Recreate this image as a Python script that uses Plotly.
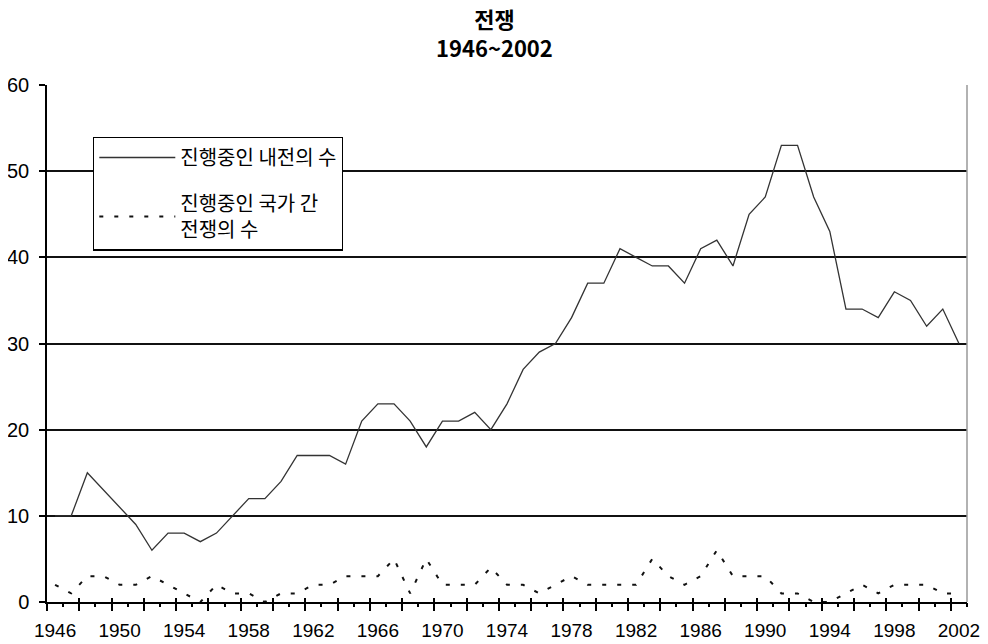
import plotly.graph_objects as go

years = list(range(1946, 2003))
civil_wars = [10, 10, 15, 13, 11, 9, 6, 8, 8, 7,
              8, 10, 12, 12, 14, 17, 17, 17, 16, 21,
              23, 23, 21, 18, 21, 21, 22, 20, 23, 27,
              29, 30, 33, 37, 37, 41, 40, 39, 39, 37,
              41, 42, 39, 45, 47, 53, 53, 47, 43, 34,
              34, 33, 36, 35, 32, 34, 30]
interstate_wars = [2, 1, 3, 3, 2, 2, 3, 2, 1, 0,
                   2, 1, 1, 0, 1, 1, 2, 2, 3, 3,
                   3, 5, 1, 5, 2, 2, 2, 4, 2, 2,
                   1, 2, 3, 2, 2, 2, 2, 5, 3, 2,
                   3, 6, 3, 3, 3, 1, 1, 0, 0, 1,
                   2, 1, 2, 2, 2, 1, 1]
x_tick_labels = list(range(1946, 2003, 4))
y_ticks = [0, 10, 20, 30, 40, 50, 60]
y_grid = [10, 20, 30, 40, 50]
title_text = "<b>전쟁<br>1946~2002</b>"

FONT = "Noto Sans CJK KR"
NUM_FONT = "Liberation Sans"
x_range = [years[0] - 0.5, years[-1] + 0.5]
boundaries = [y - 0.5 for y in years] + [years[-1] + 0.5]
long_bounds = boundaries[::2]

fig = go.Figure()
fig.add_trace(go.Scatter(
    x=years, y=civil_wars, mode="lines", name="진행중인 내전의 수",
    line=dict(color="#333333", width=1.3), legendgroup="a"))
fig.add_trace(go.Scatter(
    x=years, y=interstate_wars, mode="lines", name="진행중인 국가 간<br>전쟁의 수",
    line=dict(color="#111111", width=2, dash="4px,11px"), legendgroup="b"))
# empty helper traces so the overlay axes (grid lines, tick marks) get drawn
fig.add_trace(go.Scatter(x=[], y=[], xaxis="x2", yaxis="y2", showlegend=False, hoverinfo="skip"))
fig.add_trace(go.Scatter(x=[], y=[], xaxis="x3", yaxis="y2", showlegend=False, hoverinfo="skip"))

fig.update_layout(
    width=980, height=636,
    margin=dict(l=39, r=21, t=77, b=42),
    paper_bgcolor="white", plot_bgcolor="white",
    font=dict(family=FONT, color="black"),
    xaxis=dict(range=x_range, tickmode="array", tickvals=x_tick_labels,
               ticks="", showgrid=False, zeroline=False, automargin=False,
               showline=True, linecolor="black", linewidth=1.5,
               tickfont=dict(size=19, family=NUM_FONT, color="black"),
               ticklabelstandoff=10),
    xaxis2=dict(overlaying="x", anchor="y2", side="bottom", range=x_range,
                tickmode="array", tickvals=long_bounds, ticks="outside", ticklen=8,
                tickcolor="black", tickwidth=1.5, showticklabels=False, automargin=False,
                showgrid=False, zeroline=False, showline=False,
                minor=dict(tickmode="array", tickvals=boundaries, ticks="outside",
                           ticklen=4, tickcolor="black", tickwidth=1.5, showgrid=False)),
    xaxis3=dict(overlaying="x", anchor="y2", side="bottom", range=x_range,
                tickmode="array", tickvals=long_bounds, ticks="inside", ticklen=4,
                tickcolor="black", tickwidth=1.5, showticklabels=False, automargin=False,
                showgrid=False, zeroline=False, showline=False),
    yaxis=dict(range=[0, 60], tickmode="array", tickvals=y_ticks, ticks="outside",
               ticklen=6, tickcolor="black", tickwidth=1.5, showgrid=False, zeroline=False,
               showline=True, linecolor="black", linewidth=1.5, automargin=False,
               tickfont=dict(size=20, family=NUM_FONT, color="black"),
               ticklabelstandoff=6),
    yaxis2=dict(overlaying="y", range=[0, 60], tickmode="array", tickvals=y_grid,
                showgrid=True, gridcolor="#111111", gridwidth=2, ticks="",
                showticklabels=False, zeroline=False, showline=False, automargin=False),
    legend=dict(x=0.05, y=0.9, xanchor="left", yanchor="top",
                bordercolor="black", borderwidth=1.3, bgcolor="white",
                font=dict(size=20, family=FONT, color="black"),
                itemwidth=76, tracegroupgap=17),
    annotations=[
        dict(text=title_text, xref="paper", yref="paper", x=0.4859, y=1.1015,
             xanchor="center", yanchor="middle", showarrow=False,
             font=dict(size=22, family=FONT, color="black")),
    ],
    shapes=[dict(type="line", xref="paper", yref="paper", x0=1, x1=1, y0=0, y1=1,
                 line=dict(color="#999999", width=1.5))],
)

fig.write_html("out.html")
